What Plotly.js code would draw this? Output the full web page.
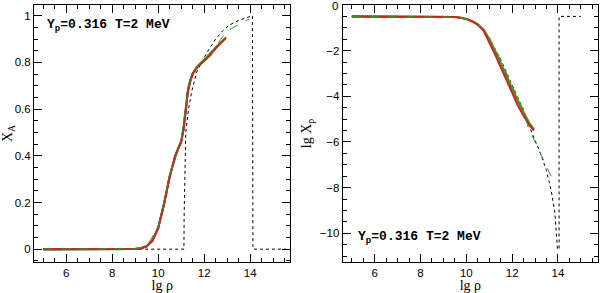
<!DOCTYPE html>
<html>
<head>
<meta charset="utf-8">
<script src="https://cdn.plot.ly/plotly-3.0.1.min.js"></script>
<style>html,body{margin:0;padding:0;background:#fff;}#chart{width:600px;height:293px;}</style>
</head>
<body>
<div id="chart"></div>
<script>
// ---------- Left panel: X_A vs lg rho ----------
const rhoA = [5, 6, 7, 8, 8.5, 9, 9.25, 9.5, 9.75, 10, 10.25, 10.5, 10.75, 11, 11.1, 11.2, 11.3, 11.4, 11.5, 11.7, 12, 12.25, 12.5, 12.75, 12.95];
const xaRed     = [0, 0, 0, 0, 0, 0.001, 0.004, 0.012, 0.035, 0.09, 0.19, 0.31, 0.40, 0.46, 0.51, 0.61, 0.68, 0.72, 0.75, 0.78, 0.805, 0.83, 0.86, 0.885, 0.905];
const xaGreen   = [0, 0, 0, 0, 0, 0.001, 0.004, 0.013, 0.037, 0.092, 0.192, 0.312, 0.402, 0.462, 0.515, 0.615, 0.685, 0.725, 0.752, 0.782, 0.81, 0.835, 0.863, 0.888, 0.907];
const xaYellow  = [0, 0, 0, 0, 0, 0.001, 0.005, 0.014, 0.038, 0.094, 0.195, 0.315, 0.405, 0.465, 0.52, 0.62, 0.69, 0.728, 0.755, 0.785, 0.812, 0.838, 0.865, 0.89, 0.908];
const rhoAblue  = [5, 6, 7, 8, 8.5, 9, 9.25, 9.5, 9.75, 10, 10.25, 10.5, 10.75, 11, 11.1, 11.2, 11.3, 11.4, 11.5, 11.7, 12, 12.15, 12.3];
const xaBlue    = [0, 0, 0, 0, 0, 0.001, 0.004, 0.012, 0.036, 0.091, 0.191, 0.311, 0.401, 0.461, 0.512, 0.612, 0.682, 0.722, 0.751, 0.781, 0.807, 0.82, 0.835];
const rhoAcyan  = [5, 6, 7, 8, 8.5, 9, 9.25, 9.5];
const xaCyan    = [0, 0, 0, 0, 0, 0.001, 0.004, 0.012];
const rhoAdot   = [5, 11.12, 11.13, 11.15, 11.2, 11.32, 11.47, 11.68, 11.85, 12.0, 12.2, 12.5, 12.8, 13.1, 13.5, 13.9, 14.1, 14.12, 15.55];
const xaDot     = [0, 0, 0.15, 0.32, 0.5, 0.6, 0.68, 0.76, 0.795, 0.82, 0.855, 0.9, 0.935, 0.96, 0.98, 0.995, 1.0, 0, 0];
const rhoAdash  = [5, 8, 9, 9.5, 10, 10.5, 11, 11.2, 11.5, 11.7, 12, 12.5, 12.84, 13.1, 13.42, 13.7, 13.95];
const xaDash    = [0, 0, 0.001, 0.013, 0.093, 0.313, 0.463, 0.618, 0.755, 0.785, 0.812, 0.868, 0.915, 0.94, 0.96, 0.974, 0.985];

// ---------- Right panel: lg X_p vs lg rho ----------
const rhoP = [5, 6, 7, 8, 8.5, 9, 9.5, 9.75, 10, 10.25, 10.5, 10.75, 11, 11.25, 11.5, 11.75, 12, 12.25, 12.5, 12.75, 12.95];
const xpRed    = [-0.5, -0.5, -0.5, -0.5, -0.5, -0.51, -0.53, -0.56, -0.62, -0.72, -0.87, -1.12, -1.6, -2.15, -2.72, -3.3, -3.87, -4.4, -4.85, -5.27, -5.5];
const xpGreen  = [-0.5, -0.5, -0.5, -0.5, -0.5, -0.51, -0.53, -0.56, -0.61, -0.71, -0.85, -1.08, -1.5, -2.0, -2.52, -3.1, -3.68, -4.22, -4.72, -5.18, -5.45];
const xpYellow = [-0.5, -0.5, -0.5, -0.5, -0.5, -0.51, -0.53, -0.56, -0.61, -0.7, -0.84, -1.06, -1.47, -1.97, -2.48, -3.05, -3.62, -4.17, -4.68, -5.15, -5.42];
const rhoPblue = [5, 6, 7, 8, 8.5, 9, 9.5];
const xpBlue   = [-0.5, -0.5, -0.5, -0.5, -0.5, -0.51, -0.53];
const rhoPdot  = [5, 8, 9, 9.5, 10, 10.5, 11, 11.5, 12, 12.5, 12.85, 13.2, 13.5, 13.7, 13.86, 13.93, 13.98, 14.05, 14.05, 15.0];
const xpDot    = [-0.5, -0.5, -0.51, -0.53, -0.6, -0.83, -1.42, -2.38, -3.5, -4.6, -5.57, -6.4, -7.26, -8.1, -9.02, -10.0, -10.7, -10.7, -0.5, -0.5];
const rhoPdash = [5, 8, 9, 9.5, 10, 10.5, 11, 11.5, 12, 12.5, 12.7, 13.0, 13.3, 13.6, 13.8];
const xpDash   = [-0.5, -0.5, -0.51, -0.53, -0.61, -0.84, -1.45, -2.42, -3.55, -4.62, -5.35, -6.0, -6.68, -7.3, -7.72];

const xTicks = [6, 8, 10, 12, 14];
const yTicksA = [0, 0.2, 0.4, 0.6, 0.8, 1];
const yTickTextA = ['0', '0.2', '0.4', '0.6', '0.8', '1'];
const yTicksP = [-10, -8, -6, -4, -2];
const yTickTextP = ['−10', '−8', '−6', '−4', '−2'];
const yTopLabelP = '0';
const labelText = 'Y<sub>p</sub>=0.316 T=2 MeV';

const RED = '#d42020', GREEN = '#2f9a2f', BLUE = '#2a2ad0', CYAN = '#20b0c0', YELLOW = '#d8d040';

function solid(x, y, color, xa, ya) {
  return {x: x, y: y, xaxis: xa, yaxis: ya, mode: 'lines', type: 'scatter',
          line: {color: color, width: 2}, hoverinfo: 'skip', showlegend: false};
}
function styled(x, y, color, dash, w, xa, ya) {
  return {x: x, y: y, xaxis: xa, yaxis: ya, mode: 'lines', type: 'scatter',
          line: {color: color, width: w, dash: dash}, hoverinfo: 'skip', showlegend: false};
}

const data = [
  styled(rhoAdot, xaDot, '#000', 'dot', 1, 'x', 'y'),
  solid(rhoA, xaYellow, YELLOW, 'x', 'y'),
  solid(rhoAcyan, xaCyan, CYAN, 'x', 'y'),
  solid(rhoAblue, xaBlue, BLUE, 'x', 'y'),
  solid(rhoA, xaGreen, GREEN, 'x', 'y'),
  solid(rhoA, xaRed, RED, 'x', 'y'),
  styled(rhoAdash, xaDash, GREEN, 'dash', 1, 'x', 'y'),

  styled(rhoPdot, xpDot, '#000', 'dot', 1, 'x2', 'y2'),
  solid(rhoP, xpYellow, YELLOW, 'x2', 'y2'),
  solid(rhoPblue, xpBlue, BLUE, 'x2', 'y2'),
  solid(rhoP, xpGreen, GREEN, 'x2', 'y2'),
  solid(rhoP, xpRed, RED, 'x2', 'y2'),
  styled(rhoPdash, xpDash, GREEN, 'dash', 1, 'x2', 'y2')
];

const tickFont = {family: 'Liberation Sans, Arial, sans-serif', size: 11.5, color: '#000'};
const titleFont = {family: 'Liberation Serif, Times New Roman, serif', size: 14, color: '#000'};
const boxFont = {family: 'Liberation Mono, DejaVu Sans Mono, monospace', size: 13, color: '#000', weight: 'bold'};

function xAxis(domain, anchor) {
  return {domain: domain, anchor: anchor, range: [4.6, 15.75], tickvals: xTicks,
          ticks: 'inside', ticklen: 8, tickwidth: 1, tickcolor: '#000',
          minor: {dtick: 0.5, tick0: 0, ticks: 'inside', ticklen: 4, tickcolor: '#000', tickwidth: 1, showgrid: false},
          showline: true, linecolor: '#000', linewidth: 1, mirror: 'ticks', showgrid: false, zeroline: false,
          tickfont: tickFont, title: {text: 'lg ρ', font: titleFont, standoff: 7}};
}

const layout = {
  width: 600, height: 293,
  margin: {l: 33.5, r: 2.3, t: 5, b: 31.3},
  paper_bgcolor: '#fff', plot_bgcolor: '#fff',
  showlegend: false,
  xaxis: xAxis([0, 0.4546], 'y'),
  xaxis2: xAxis([0.5473, 1], 'y2'),
  yaxis: {domain: [0, 1], anchor: 'x', range: [-0.055, 1.046], tickvals: yTicksA, ticktext: yTickTextA,
          ticks: 'inside', ticklen: 8, tickcolor: '#000',
          minor: {dtick: 0.05, tick0: 0, ticks: 'inside', ticklen: 4, tickcolor: '#000', showgrid: false},
          showline: true, linecolor: '#000', linewidth: 1, mirror: 'ticks', showgrid: false, zeroline: false,
          tickfont: tickFont, title: {text: 'X<sub>A</sub>', font: titleFont, standoff: 6}},
  yaxis2: {domain: [0, 1], anchor: 'x2', range: [-11.26, 0], tickvals: yTicksP, ticktext: yTickTextP,
          ticks: 'inside', ticklen: 8, tickcolor: '#000',
          minor: {dtick: 0.5, tick0: 0, ticks: 'inside', ticklen: 4, tickcolor: '#000', showgrid: false},
          showline: true, linecolor: '#000', linewidth: 1, mirror: 'ticks', showgrid: false, zeroline: false,
          tickfont: tickFont, title: {text: 'lg X<sub>p</sub>', font: titleFont, standoff: 4}},
  annotations: [
    {xref: 'x', yref: 'y', x: 5.09, y: 0.96, xanchor: 'left', yanchor: 'middle', showarrow: false,
     text: labelText, font: boxFont},
    {xref: 'x2', yref: 'y2', x: 5.18, y: -10.18, xanchor: 'left', yanchor: 'middle', showarrow: false,
     text: labelText, font: boxFont},
    {xref: 'x2 domain', yref: 'y2', x: 0, y: 0, xanchor: 'right', yanchor: 'middle', xshift: -4, yshift: -1,
     borderpad: 0, showarrow: false, text: yTopLabelP, font: tickFont}
  ]
};

Plotly.newPlot('chart', data, layout, {staticPlot: true, displayModeBar: false});
</script>
</body>
</html>
